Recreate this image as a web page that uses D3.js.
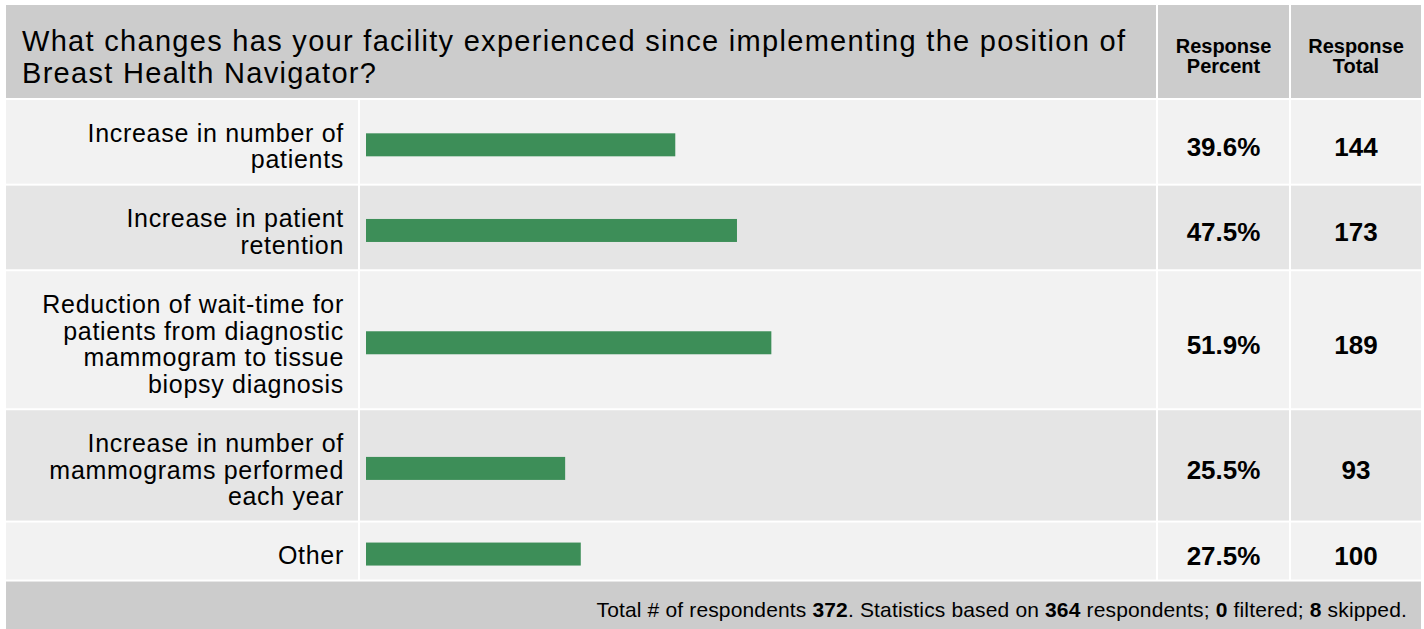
<!DOCTYPE html>
<html>
<head>
<meta charset="utf-8">
<script src="https://cdn.jsdelivr.net/npm/d3@7"></script>
<style>
  body { margin: 0; background: #fff; }
  text { font-family: "Liberation Sans", Arial, sans-serif; fill: #000; }
</style>
</head>
<body>
<div id="chart"></div>
<script>
// data
const question = ["What changes has your facility experienced since implementing the position of",
                  "Breast Health Navigator?"];
const categories = [
  ["Increase in number of", "patients"],
  ["Increase in patient", "retention"],
  ["Reduction of wait-time for", "patients from diagnostic", "mammogram to tissue", "biopsy diagnosis"],
  ["Increase in number of", "mammograms performed", "each year"],
  ["Other"]
];
const percents = [39.6, 47.5, 51.9, 25.5, 27.5];
const totals = [144, 173, 189, 93, 100];
const columnHeads = [["Response", "Percent"], ["Response", "Total"]];
const totalRespondents = 372;
const basedOn = 364;
const filtered = 0;
const skipped = 8;

// dimensions
const width = 1424, height = 629;
const tableLeft = 6, tableRight = 1421, tableTop = 5;
const headerH = 93;
const gap = 2;
const lineH = 26.67;
const colLabelEnd = 358, colBarEnd = 1156, colPctEnd = 1289;
const barH = 23;
const colors = { head: "#cccccc", odd: "#f2f2f2", even: "#e5e5e5", bar: "#3d8e58" };

const svg = d3.select("#chart").append("svg")
  .attr("width", width)
  .attr("height", height);

// header
svg.append("rect")
  .attr("x", tableLeft).attr("y", tableTop)
  .attr("width", colBarEnd - tableLeft).attr("height", headerH)
  .attr("fill", colors.head);
svg.append("rect")
  .attr("x", colBarEnd + gap).attr("y", tableTop)
  .attr("width", colPctEnd - colBarEnd - gap).attr("height", headerH)
  .attr("fill", colors.head);
svg.append("rect")
  .attr("x", colPctEnd + gap).attr("y", tableTop)
  .attr("width", tableRight - colPctEnd - gap).attr("height", headerH)
  .attr("fill", colors.head);

svg.append("text")
  .attr("font-size", "29px")
  .attr("letter-spacing", "1.3px")
  .selectAll("tspan")
  .data(question)
  .join("tspan")
  .attr("x", 22)
  .attr("y", (d, i) => 51 + i * 32)
  .text(d => d);

const headCenters = [(colBarEnd + gap + colPctEnd) / 2, (colPctEnd + gap + tableRight) / 2];
columnHeads.forEach((lines, c) => {
  svg.append("text")
    .attr("text-anchor", "middle")
    .attr("font-size", "20px")
    .attr("font-weight", "bold")
    .selectAll("tspan")
    .data(lines)
    .join("tspan")
    .attr("x", headCenters[c])
    .attr("y", (d, i) => 53 + i * 20)
    .text(d => d);
});

// rows
const rowHeights = categories.map(c => 30.3 + lineH * c.length);
const rowTops = [];
let yPos = tableTop + headerH + gap;
rowHeights.forEach(h => { rowTops.push(yPos); yPos += h + gap; });

const xScale = d3.scaleLinear()
  .domain([0, 100])
  .range([366, 1147]);

const rows = svg.selectAll(".row")
  .data(categories)
  .join("g")
  .attr("class", "row")
  .attr("transform", (d, i) => `translate(0, ${rowTops[i]})`);

const cells = [[tableLeft, colLabelEnd], [colLabelEnd + gap, colBarEnd], [colBarEnd + gap, colPctEnd], [colPctEnd + gap, tableRight]];
cells.forEach(([x0, x1]) => {
  rows.append("rect")
    .attr("x", x0)
    .attr("width", x1 - x0)
    .attr("height", (d, i) => rowHeights[i])
    .attr("fill", (d, i) => i % 2 === 0 ? colors.odd : colors.even);
});

// labels
rows.append("text")
  .attr("text-anchor", "end")
  .attr("font-size", "25px")
  .attr("letter-spacing", "0.7px")
  .each(function(lines, i) {
    const cy = rowHeights[i] / 2 + 4.5;
    const y0 = cy + 8.8 - (lines.length - 1) * lineH / 2;
    d3.select(this).selectAll("tspan")
      .data(lines)
      .join("tspan")
      .attr("x", 344)
      .attr("y", (d, j) => y0 + j * lineH)
      .text(d => d);
  });

// bars
rows.append("rect")
  .attr("x", xScale(0))
  .attr("y", (d, i) => rowHeights[i] / 2 + 3 - barH / 2)
  .attr("width", (d, i) => xScale(percents[i]) - xScale(0))
  .attr("height", barH)
  .attr("fill", colors.bar);

// percent and total values
rows.append("text")
  .attr("x", headCenters[0])
  .attr("y", (d, i) => rowHeights[i] / 2 + 13.8)
  .attr("text-anchor", "middle")
  .attr("font-size", "26px")
  .attr("font-weight", "bold")
  .text((d, i) => d3.format(".1f")(percents[i]) + "%");

rows.append("text")
  .attr("x", headCenters[1])
  .attr("y", (d, i) => rowHeights[i] / 2 + 13.8)
  .attr("text-anchor", "middle")
  .attr("font-size", "26px")
  .attr("font-weight", "bold")
  .text((d, i) => totals[i]);

// footer
const footTop = yPos;
svg.append("rect")
  .attr("x", tableLeft).attr("y", footTop)
  .attr("width", tableRight - tableLeft).attr("height", height - footTop)
  .attr("fill", colors.head);

const footParts = [
  ["Total # of respondents ", false], [totalRespondents, true],
  [". Statistics based on ", false], [basedOn, true],
  [" respondents; ", false], [filtered, true],
  [" filtered; ", false], [skipped, true], [" skipped.", false]
];
svg.append("text")
  .attr("x", 1407).attr("y", 617)
  .attr("text-anchor", "end")
  .attr("font-size", "21px")
  .attr("letter-spacing", "0.15px")
  .attr("xml:space", "preserve")
  .selectAll("tspan")
  .data(footParts)
  .join("tspan")
  .attr("font-weight", d => d[1] ? "bold" : "normal")
  .text(d => d[0]);
</script>
</body>
</html>
